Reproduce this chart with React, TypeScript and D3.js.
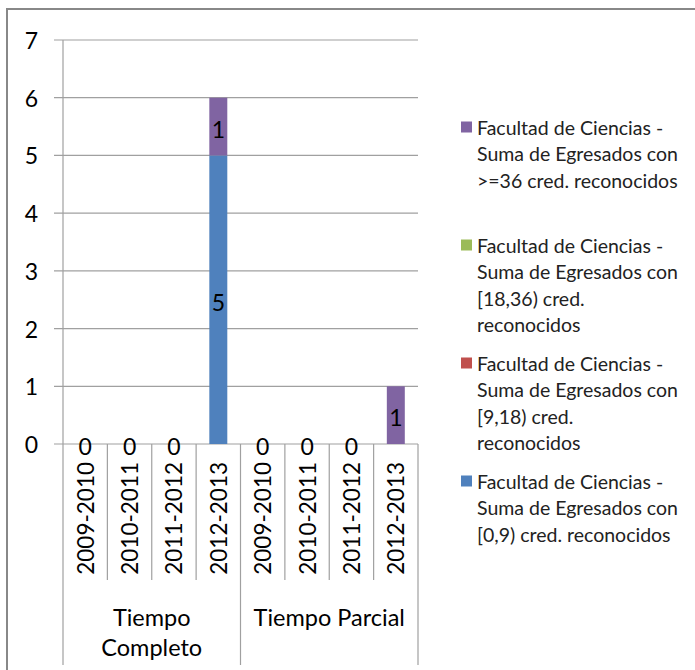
import React from "react";
import * as d3 from "d3";

const years = ["2009-2010", "2010-2011", "2011-2012", "2012-2013"];
const groups = ["Tiempo Completo", "Tiempo Parcial"];
const groupLabelLines = [["Tiempo", "Completo"], ["Tiempo Parcial"]];
const yTicks = [0, 1, 2, 3, 4, 5, 6, 7];

// stacked series, bottom to top; null = no data label shown
const s0_9: (number | null)[] = [0, 0, 0, 5, 0, 0, 0, null];
const s9_18: (number | null)[] = [null, null, null, null, null, null, null, null];
const s18_36: (number | null)[] = [null, null, null, null, null, null, null, null];
const s36: (number | null)[] = [null, null, null, 1, null, null, null, 1];

const seriesNames = [
  ["Facultad de Ciencias -", "Suma de Egresados con", "[0,9) cred. reconocidos"],
  ["Facultad de Ciencias -", "Suma de Egresados con", "[9,18) cred.", "reconocidos"],
  ["Facultad de Ciencias -", "Suma de Egresados con", "[18,36) cred.", "reconocidos"],
  ["Facultad de Ciencias -", "Suma de Egresados con", ">=36 cred. reconocidos"],
];
const seriesColors = ["#4F81BD", "#C0504D", "#9BBB59", "#8064A2"];
const seriesData = [s0_9, s9_18, s18_36, s36];

const FONT = "Lato, 'Open Sans', sans-serif";

export default function App() {
  const W = 695, H = 670;
  const left = 63, right = 418, top = 40, bottom = 444;
  const cats = groups.flatMap((g) => years.map((y) => `${g}|${y}`));
  const x = d3.scaleBand<string>().domain(cats).range([left, right]).padding(0);
  const y = d3.scaleLinear().domain([0, 7]).range([bottom, top]);
  const bw = x.bandwidth() * 0.405;

  const stacked: { si: number; ci: number; y0: number; y1: number; v: number }[] = [];
  cats.forEach((c, ci) => {
    let acc = 0;
    seriesData.forEach((s, si) => {
      const v = s[ci];
      if (v === null) return;
      stacked.push({ si, ci, y0: acc, y1: acc + v, v });
      acc += v;
    });
  });

  const groupX = groups.map((g, gi) => [x(cats[gi * 4])!, x(cats[gi * 4 + 3])! + x.bandwidth()]);

  const legendOrder = [3, 2, 1, 0];
  const legendTop = [127, 245, 363, 481];
  const lineH = 26.6;

  return (
    <div style={{ position: "absolute", left: 0, top: 0 }}>
      <svg width={W} height={H} style={{ display: "block", fontFamily: FONT }}>
        <rect x={0} y={0} width={W} height={H} fill="#fff" />
        <rect x={7} y={9} width={W + 20} height={H + 20} fill="none" stroke="#888" strokeWidth={2} />
        {/* gridlines */}
        {yTicks.map((t) => (
          <line key={t} x1={54} x2={right} y1={y(t)} y2={y(t)} stroke="#a0a0a0" strokeWidth={1.2} />
        ))}
        {/* y axis */}
        <line x1={left} x2={left} y1={top} y2={665} stroke="#a0a0a0" strokeWidth={1.2} />
        {yTicks.map((t) => (
          <text key={t} x={38} y={y(t)} textAnchor="end" dominantBaseline="central" fontSize={23} fill="#000">
            {t}
          </text>
        ))}
        {/* category separators */}
        {cats.map((c, i) => {
          if (i === 0) return null;
          const xx = x(c)!;
          const isGroup = i % 4 === 0;
          return <line key={c} x1={xx} x2={xx} y1={bottom} y2={isGroup ? 665 : 580} stroke="#a0a0a0" strokeWidth={1.2} />;
        })}
        <line x1={right} x2={right} y1={bottom} y2={665} stroke="#a0a0a0" strokeWidth={1.2} />
        {/* bars */}
        {stacked.map((d, i) => (
          <rect key={i} x={x(cats[d.ci])! + (x.bandwidth() - bw) / 2} width={bw} y={y(d.y1)} height={y(d.y0) - y(d.y1)} fill={seriesColors[d.si]} />
        ))}
        {/* data labels */}
        {stacked.map((d, i) => (
          <text key={i} x={x(cats[d.ci])! + x.bandwidth() / 2} y={(y(d.y0) + y(d.y1)) / 2 + 2} textAnchor="middle" dominantBaseline="central" fontSize={23} fill="#000">
            {d.v}
          </text>
        ))}
        {/* year labels */}
        {cats.map((c, i) => {
          const cx = x(c)! + x.bandwidth() / 2;
          return (
            <text key={c} transform={`translate(${cx},462) rotate(-90)`} textAnchor="end" dominantBaseline="central" fontSize={22.5} fill="#000">
              {years[i % 4]}
            </text>
          );
        })}
        {/* group labels */}
        {groupLabelLines.map((lines, gi) => (
          <text key={gi} x={(groupX[gi][0] + groupX[gi][1]) / 2} textAnchor="middle" fontSize={23.5} fill="#000">
            {lines.map((l, li) => (
              <tspan key={li} x={(groupX[gi][0] + groupX[gi][1]) / 2} y={617 + li * 30} dominantBaseline="central">
                {l}
              </tspan>
            ))}
          </text>
        ))}
        {/* legend */}
        {legendOrder.map((si, k) => (
          <g key={si}>
            <rect x={461} y={legendTop[k] - 5.5} width={11} height={11} fill={seriesColors[si]} />
            {seriesNames[si].map((l, li) => (
              <text key={li} x={477} y={legendTop[k] + li * lineH} dominantBaseline="central" fontSize={19.5} fill="#222">
                {l}
              </text>
            ))}
          </g>
        ))}
      </svg>
    </div>
  );
}
